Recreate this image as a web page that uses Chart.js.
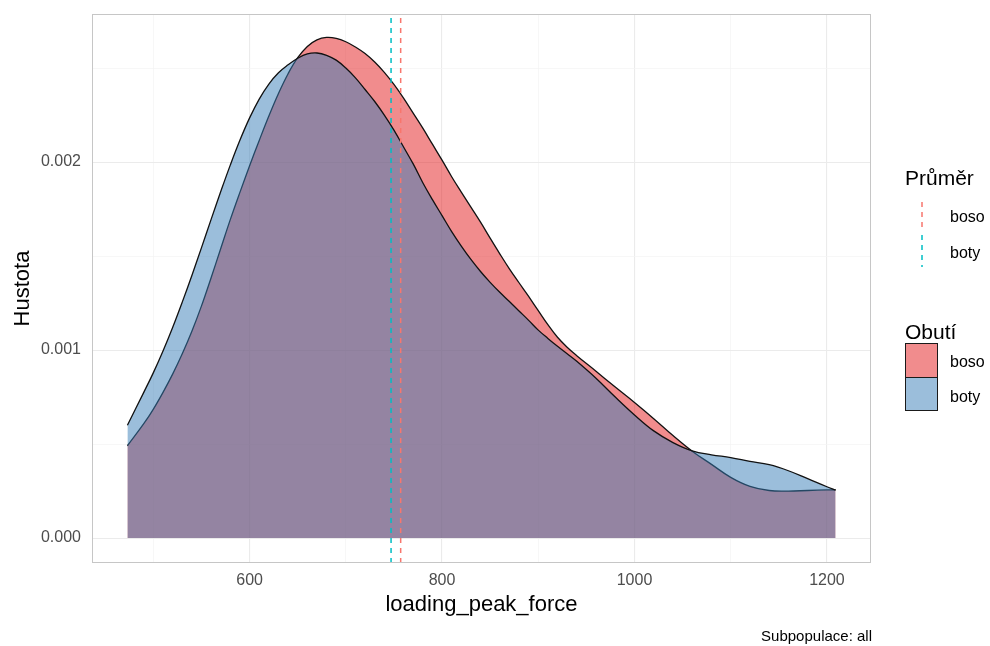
<!DOCTYPE html>
<html><head><meta charset="utf-8">
<script src="https://cdn.jsdelivr.net/npm/chart.js@4/dist/chart.umd.min.js"></script>
<style>
html,body{margin:0;padding:0;background:#fff;}
#wrap{position:relative;width:990px;height:646px;font-family:"Liberation Sans",Arial,sans-serif;overflow:hidden;}
#c{position:absolute;left:0;top:0;}
.lbl{position:absolute;line-height:0;white-space:nowrap;color:#000;}
.box{position:absolute;box-sizing:border-box;border:1.3px solid #1a1a1a;}
</style></head><body>
<div id="wrap">
<canvas id="c" width="990" height="646"></canvas>
<div class="lbl" style="left:905px;top:178px;font-size:21px">Průměr</div>
<svg style="position:absolute;left:910px;top:198px" width="25" height="72">
 <line x1="12" y1="4" x2="12" y2="34" stroke="#F8766D" stroke-width="1.5" stroke-dasharray="5 5"/>
 <line x1="12" y1="37" x2="12" y2="69" stroke="#00BFC4" stroke-width="1.5" stroke-dasharray="5 5"/>
</svg>
<div class="lbl" style="left:950px;top:217px;font-size:16px">boso</div>
<div class="lbl" style="left:950px;top:253px;font-size:16px">boty</div>
<div class="lbl" style="left:905px;top:332px;font-size:21px">Obutí</div>
<div class="box" style="left:905px;top:343px;width:33px;height:35px;background:rgb(241,140,141)"></div>
<div class="box" style="left:905px;top:377px;width:33px;height:34px;background:rgb(155,190,219)"></div>
<div class="lbl" style="left:950px;top:362px;font-size:16px">boso</div>
<div class="lbl" style="left:950px;top:397px;font-size:16px">boty</div>
<div class="lbl" style="right:118px;top:636px;font-size:15px">Subpopulace: all</div>
</div>
<script>
const xGrid = [473,490,500,510,520,530,540,550,560,570,580,590,600,610,620,630,640,650,660,670,680,690,700,710,720,730,740,750,760,770,780,790,800,810,820,830,840,850,860,870,880,890,900,910,920,930,940,960,980,1000,1020,1040,1060,1080,1100,1120,1140,1160,1180,1200,1209];
const bosoDensity = [0.000491,0.000608,0.000686,0.000775,0.000872,0.000980,0.001100,0.001235,0.001385,0.001540,0.001695,0.001840,0.001980,0.002115,0.002245,0.002365,0.002470,0.002555,0.002615,0.002650,0.002663,0.002658,0.002640,0.002612,0.002577,0.002532,0.002477,0.002413,0.002340,0.002260,0.002180,0.002095,0.002010,0.001922,0.001840,0.001760,0.001680,0.001595,0.001512,0.001432,0.001358,0.001285,0.001210,0.001135,0.001068,0.001015,0.000970,0.000887,0.000803,0.000721,0.000635,0.000545,0.000462,0.000392,0.000323,0.000275,0.000253,0.000250,0.000253,0.000256,0.000257];
const botyDensity = [0.000600,0.000775,0.000880,0.000995,0.001120,0.001255,0.001397,0.001545,0.001695,0.001843,0.001985,0.002117,0.002235,0.002335,0.002415,0.002475,0.002517,0.002552,0.002575,0.002580,0.002568,0.002542,0.002500,0.002448,0.002386,0.002322,0.002250,0.002170,0.002080,0.001990,0.001890,0.001800,0.001715,0.001630,0.001553,0.001482,0.001418,0.001360,0.001307,0.001258,0.001208,0.001158,0.001106,0.001062,0.001020,0.000980,0.000940,0.000850,0.000750,0.000655,0.000570,0.000508,0.000464,0.000443,0.000428,0.000408,0.000390,0.000358,0.000316,0.000273,0.000255];
const meanBoso = 757;
const meanBoty = 747;
const xTickValues = [500,600,700,800,900,1000,1100,1200];
const xLabelled = [600,800,1000,1200];
const yTickValues = [0,0.0005,0.001,0.0015,0.002,0.0025];
const yLabelled = [0,0.001,0.002];
const X_MIN = 436.2, X_MAX = 1245.8, Y_MIN = -0.0001327, Y_MAX = 0.0027875;

const FONT = '"Liberation Sans", Arial, sans-serif';
const isLab = (arr, v) => arr.some(a => Math.abs(a - v) < 1e-9);

const borderPlugin = {
  id: 'panelBorder',
  afterDraw(chart) {
    const {ctx, chartArea: a} = chart;
    ctx.save();
    ctx.strokeStyle = '#C6C6C6';
    ctx.lineWidth = 1;
    ctx.strokeRect(a.left + 0.5, a.top + 0.5, a.right - a.left - 1, a.bottom - a.top - 1);
    ctx.restore();
  }
};

const vline = (x, color) => ({
  data: [{x: x, y: Y_MIN}, {x: x, y: Y_MAX}],
  borderColor: color, borderWidth: 1.5, borderDash: [5, 5],
  pointRadius: 0, fill: false, tension: 0
});
const density = (vals, fillColor) => ({
  data: xGrid.map((x, i) => ({x: x, y: vals[i]})),
  backgroundColor: fillColor, borderColor: '#111', borderWidth: 1.3,
  fill: 'origin', tension: 0.4, pointRadius: 0
});
const noPad = s => { s.paddingTop = 0; s.paddingBottom = 0; s.paddingLeft = 0; s.paddingRight = 0; };

new Chart(document.getElementById('c'), {
  type: 'line',
  data: {
    datasets: [
      vline(meanBoso, '#F8766D'),
      vline(meanBoty, '#00BFC4'),
      density(botyDensity, 'rgba(55,126,184,0.5)'),
      density(bosoDensity, 'rgba(228,26,28,0.5)')
    ]
  },
  options: {
    responsive: false, animation: false, devicePixelRatio: 1,
    layout: {padding: {top: 14, right: 119, bottom: 0, left: 0}},
    plugins: {legend: {display: false}, tooltip: {enabled: false}},
    scales: {
      x: {
        type: 'linear', min: X_MIN, max: X_MAX,
        afterBuildTicks: s => { s.ticks = xTickValues.map(v => ({value: v})); },
        afterFit: s => { s.height = 83; noPad(s); },
        ticks: {
          callback: v => isLab(xLabelled, v) ? String(v) : '',
          color: '#4D4D4D', font: {size: 16, family: FONT}, padding: 8,
          maxRotation: 0, autoSkip: false
        },
        grid: {
          color: c => isLab(xLabelled, c.tick.value) ? '#EBEBEB' : '#F3F3F3',
          lineWidth: c => isLab(xLabelled, c.tick.value) ? 1.1 : 0.7,
          drawTicks: false
        },
        border: {display: false},
        title: {display: true, text: 'loading_peak_force', color: '#000',
          font: {size: 22, family: FONT}, padding: {top: 0, bottom: 28}}
      },
      y: {
        type: 'linear', min: Y_MIN, max: Y_MAX,
        afterBuildTicks: s => { s.ticks = yTickValues.map(v => ({value: v})); },
        afterFit: s => { s.width = 92; noPad(s); },
        ticks: {
          callback: v => isLab(yLabelled, v) ? v.toFixed(3) : '',
          color: '#4D4D4D', font: {size: 16, family: FONT}, padding: 11,
          autoSkip: false
        },
        grid: {
          color: c => isLab(yLabelled, c.tick.value) ? '#EBEBEB' : '#F3F3F3',
          lineWidth: c => isLab(yLabelled, c.tick.value) ? 1.1 : 0.7,
          drawTicks: false
        },
        border: {display: false},
        title: {display: true, text: 'Hustota', color: '#000',
          font: {size: 22, family: FONT}, padding: {top: 10, bottom: 0}}
      }
    }
  },
  plugins: [borderPlugin]
});
</script>
</body></html>
